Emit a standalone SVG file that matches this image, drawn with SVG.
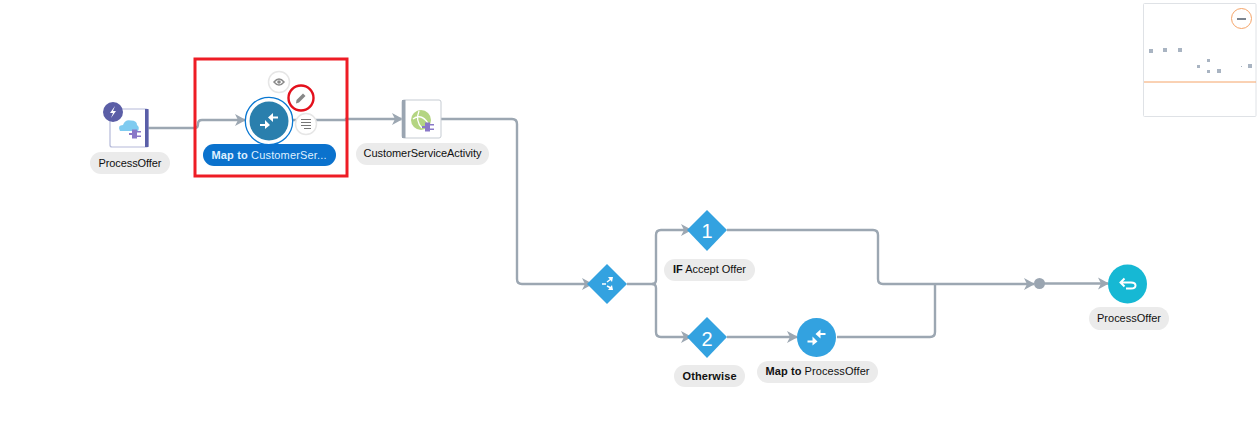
<svg xmlns="http://www.w3.org/2000/svg" width="1257" height="426" viewBox="0 0 1257 426">
<style>
text{font-family:"Liberation Sans",Arial,sans-serif;font-size:11px;fill:#111;text-anchor:middle}
.b{font-weight:bold}
.pill{fill:#ebebeb}
.c{fill:none;stroke:#9ca7b2;stroke-width:2.400}
.w{fill:none;stroke:#fff;stroke-width:2}
.bub{fill:#fff;stroke:#e6e6e6;stroke-width:1.500}
.ms{fill:#a9b4c2}
.d{fill:#33a2e0}
.num{fill:#fff;font-size:20px}
</style>
<defs>
<marker id="a" markerUnits="userSpaceOnUse" markerWidth="14" markerHeight="14" refX="10" refY="7" orient="auto">
<path d="M0,1 L11,7 L0,13 L3,7 Z" fill="#9ca7b2"/>
</marker>
<g id="mapicon">
<path d="M-9,4 H-3 M9,-3.500 H3" class="w"/>
<path d="M-4,-1 L1,4 L-4,8 Z M4,-8 L-1,-3.500 L4,1 Z" fill="#fff"/>
</g>
<g id="plug">
<path d="M-7,0 H-4" stroke="#8a78c8" stroke-width="2" fill="none"/>
<path d="M-4,-4.500 H1 V-3 H5 V-1.500 H1 V1.500 H5 V3 H1 V4.500 H-4 Z" fill="#8a78c8"/>
</g>
</defs>

<g id="connectors">
<path class="c" d="M148,128 H195 Q198,128 198,124 Q198,120 202,120 H245" marker-end="url(#a)"/>
<path class="c" d="M289,120 H346 V119 H402" marker-end="url(#a)"/>
<path class="c" d="M441,119 H512 Q517,119 517,124 V279 Q517,284 522,284 H592" marker-end="url(#a)"/>
<path class="c" d="M627,284 H652 Q656,284 656,280 V235 Q656,230 661,230 H691" marker-end="url(#a)"/>
<path class="c" d="M652,284 Q656,284 656,288 V332 Q656,337 661,337 H691" marker-end="url(#a)"/>
<path class="c" d="M727,230 H873 Q878,230 878,235 V279 Q878,284 883,284 H1034" marker-end="url(#a)"/>
<path class="c" d="M727,337 H797" marker-end="url(#a)"/>
<path class="c" d="M837,337 H930 Q935,337 935,332 V284"/>
<path class="c" d="M1044,283.500 H1108" marker-end="url(#a)"/>
</g>

<g id="node-processoffer">
<rect x="110" y="109" width="38" height="38" rx="2" fill="#fff" stroke="#b5bad9" stroke-width="1.200"/>
<rect x="145" y="109" width="3.500" height="38" fill="#5a5fa8"/>
<path d="M120,131 Q117,125 123,125 Q125,119 131,120.500 Q137,120.500 137,125 Q140,127 138,131 Z" fill="#7fcbf0"/>
<use href="#plug" x="136" y="134"/>
<circle cx="113" cy="112" r="10" fill="#5b5ea6"/>
<path d="M115,106 L110,113 H113 L111,118 L116,111 H113 Z" fill="#fff"/>
<rect class="pill" x="90" y="152" width="80" height="22" rx="11"/>
<text x="130" y="166.500" textLength="63">ProcessOffer</text>
</g>

<g id="node-map-customer">
<rect x="195" y="59" width="152" height="117" fill="none" stroke="#ee1c25" stroke-width="3"/>
<circle cx="269" cy="121" r="23.700" fill="#fff" stroke="#0a78d2" stroke-width="1.300"/>
<circle cx="269" cy="121" r="19.500" fill="#2a7fad"/>
<use href="#mapicon" x="269" y="121"/>
<circle class="bub" cx="279" cy="82" r="10.500"/>
<path d="M274,82 Q279,76 284,82 Q279,88 274,82 Z" fill="none" stroke="#8a8a8a" stroke-width="1.500"/>
<circle cx="279" cy="82" r="1.800" fill="#8a8a8a"/>
<circle cx="301" cy="98" r="12.500" fill="#fff" stroke="#e3101c" stroke-width="2.400"/>
<path d="M296,103.500 L296.500,100 L303,93.500 L305.500,96 L299,102.500 Z" fill="#888"/>
<circle class="bub" cx="306" cy="124" r="10.500"/>
<path d="M301,119.500 H311 M301,122.500 H311 M301,125.500 H311 M304,128.500 H311" stroke="#777" stroke-width="1.200" fill="none"/>
<rect x="203" y="144" width="133" height="22" rx="11" fill="#0b72cd"/>
<text x="269" y="158.500" textLength="115" style="fill:#dff0ff"><tspan class="b">Map to</tspan> CustomerSer...</text>
</g>

<g id="node-customerserviceactivity">
<rect x="402" y="100" width="39" height="38" rx="2" fill="#fff" stroke="#c5cbd2" stroke-width="1"/>
<rect x="402" y="100" width="3.500" height="38" fill="#9aa5b1"/>
<circle cx="421" cy="120" r="10" fill="#b4d582"/>
<path d="M413,119 Q421,113 428,123 M419,111 Q415,121 422,128" fill="none" stroke="#fff" stroke-width="1.300"/>
<use href="#plug" x="429" y="127"/>
<rect class="pill" x="356" y="143" width="133" height="22" rx="11"/>
<text x="422.500" y="157" textLength="118">CustomerServiceActivity</text>
</g>

<g id="node-switch">
<path class="d" d="M607,264 L627,284 L607,304 L587,284 Z"/>
<path d="M602,284 H606 M607,282 L611,279 M607,286 L611,288" fill="none" stroke="#fff" stroke-width="1.500"/>
<path d="M608,277 L613,277 L612,282 Z M608,290 L613,290 L612,285 Z" fill="#fff"/>
</g>

<g id="node-if">
<path class="d" d="M707,210 L727,230 L707,251 L687,230 Z"/>
<text class="num" x="707" y="238">1</text>
<rect class="pill" x="664" y="259" width="91" height="22" rx="11"/>
<text x="709.500" y="273" textLength="73"><tspan class="b">IF</tspan> Accept Offer</text>
</g>

<g id="node-otherwise">
<path class="d" d="M707,317 L727,337 L707,358 L687,337 Z"/>
<text class="num" x="707" y="346">2</text>
<rect class="pill" x="674" y="365" width="71" height="22" rx="11"/>
<text class="b" x="709.500" y="380" textLength="54">Otherwise</text>
</g>

<g id="node-map-processoffer">
<circle class="d" cx="816.500" cy="337.500" r="19.500"/>
<use href="#mapicon" x="816.500" y="337.500"/>
<rect class="pill" x="757" y="361" width="121" height="22" rx="11"/>
<text x="817.500" y="375" textLength="104"><tspan class="b">Map to</tspan> ProcessOffer</text>
</g>

<g id="node-merge">
<circle cx="1039.500" cy="283.500" r="5.500" fill="#9aa5b1"/>
</g>

<g id="node-return">
<circle cx="1127.500" cy="284" r="19.500" fill="#16b8d4"/>
<path d="M1122,282.500 H1131 Q1135.500,282.500 1135.500,285.500 Q1135.500,288.500 1131,288.500 H1126 M1124.500,278.500 L1120.500,282.500 L1124.500,286.500" fill="none" stroke="#fff" stroke-width="2"/>
<rect class="pill" x="1089" y="307" width="80" height="23" rx="11.500"/>
<text x="1129" y="322" textLength="64">ProcessOffer</text>
</g>

<g id="minimap">
<rect x="1143.500" y="3.500" width="112.500" height="113" rx="1" fill="#fff" stroke="#dfe2e6" stroke-width="1"/>
<path d="M1144,82 H1256" stroke="#f5a468" stroke-width="1"/>
<circle cx="1241.500" cy="18.500" r="10" fill="#fff" stroke="#f5a468" stroke-width="1"/>
<rect x="1237" y="18" width="9" height="2" fill="#7c8590"/>
<rect class="ms" x="1149" y="49" width="4" height="4"/>
<rect class="ms" x="1163" y="48" width="4" height="4"/>
<rect class="ms" x="1178" y="48" width="4" height="4"/>
<rect class="ms" x="1197" y="65" width="3" height="3"/>
<rect class="ms" x="1207" y="59" width="3" height="3"/>
<rect class="ms" x="1207" y="70" width="3" height="3"/>
<rect class="ms" x="1217" y="69" width="4" height="4"/>
<rect class="ms" x="1241" y="66" width="1" height="1"/>
<rect class="ms" x="1248" y="64" width="4" height="4"/>
</g>
</svg>
